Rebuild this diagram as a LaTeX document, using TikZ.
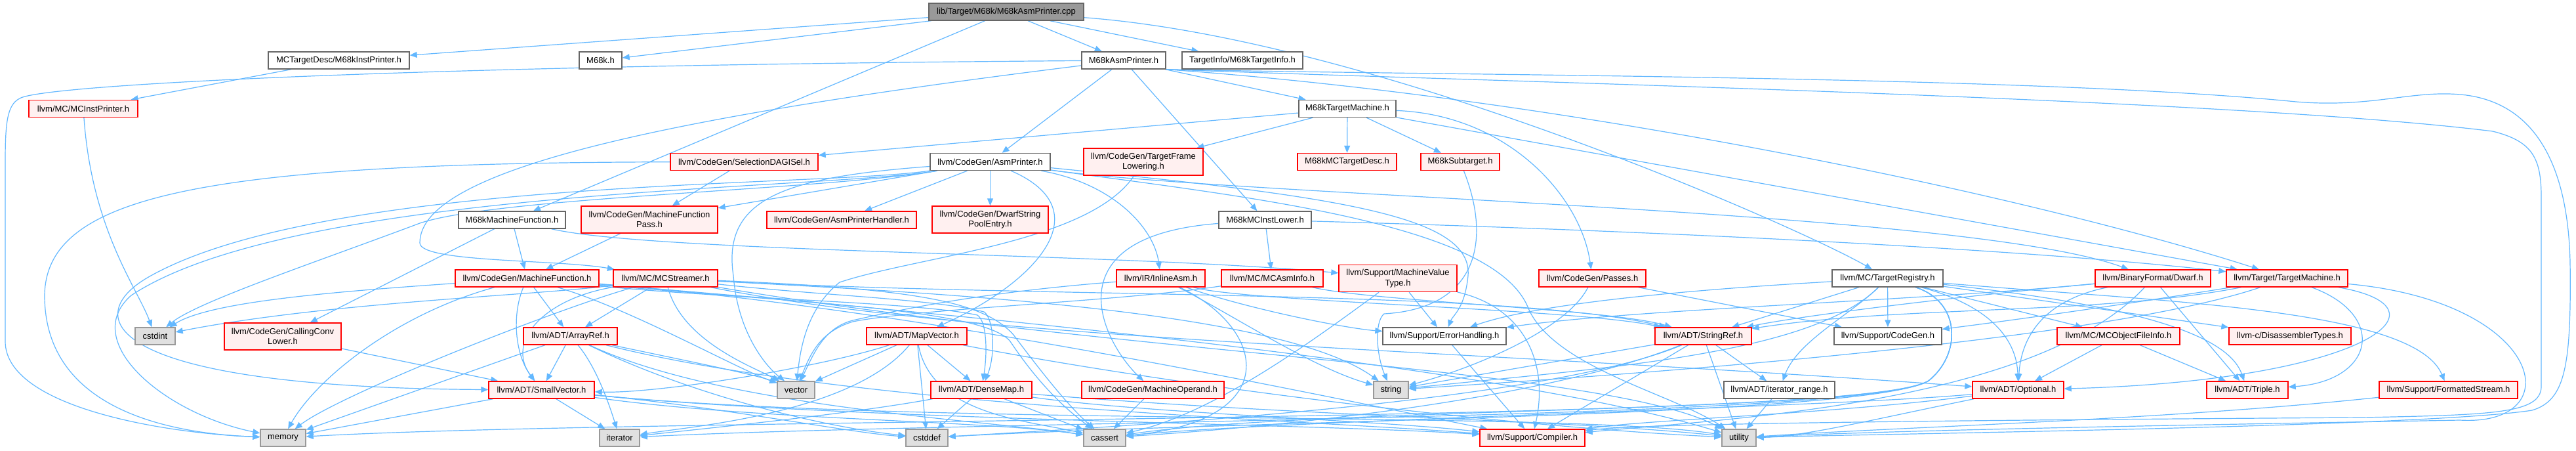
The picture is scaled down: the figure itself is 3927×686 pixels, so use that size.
\documentclass[tikz,border=0pt]{standalone}
\usepackage{fontspec}
\setmainfont{Liberation Sans}
\usetikzlibrary{arrows.meta,backgrounds}
\definecolor{edgec}{HTML}{63B8FF}
\definecolor{rborder}{HTML}{FF0000}
\definecolor{rfill}{HTML}{FFF0F0}
\definecolor{wborder}{HTML}{666666}
\definecolor{gborder}{HTML}{999999}
\definecolor{gfill}{HTML}{E0E0E0}
\definecolor{rootfill}{HTML}{999999}
\begin{document}
\begin{tikzpicture}[x=1pt,y=-1pt,
 nd/.style={rectangle, inner sep=0pt, minimum height=26pt, align=center, font=\fontsize{13}{15.5}\selectfont, line width=1.4pt},
 rn/.style={nd, draw=rborder, fill=rfill},
 wn/.style={nd, draw=wborder, fill=white},
 gn/.style={nd, draw=gborder, fill=gfill},
 rootn/.style={nd, draw=wborder, fill=rootfill},
 two/.style={minimum height=41pt},
 edg/.style={draw=edgec, line width=1.2pt, -{Triangle[length=11pt,width=9pt]}}]
\useasboundingbox (0,0) rectangle (3927,686);
% nodes
\node[rootn, minimum width=236pt] (root) at (1534,18) {lib/Target/M68k/M68kAsmPrinter.cpp};
\node[wn, minimum width=215pt] (instp) at (516.5,92) {MCTargetDesc/M68kInstPrinter.h};
\node[wn, minimum width=65pt] (m68kh) at (915.5,92) {M68k.h};
\node[wn, minimum width=128pt] (asmph) at (1713,92) {M68kAsmPrinter.h};
\node[wn, minimum width=184pt] (tinfo) at (1894,92) {TargetInfo/M68kTargetInfo.h};
\node[rn, minimum width=166pt] (mcinstp) at (127,165.5) {llvm/MC/MCInstPrinter.h};
\node[wn, minimum width=148pt] (tm68k) at (2054,165.5) {M68kTargetMachine.h};
\node[rn, minimum width=225pt] (seldag) at (1134.5,246.5) {llvm/CodeGen/SelectionDAGISel.h};
\node[wn, minimum width=183pt] (asmprn) at (1509.5,246.5) {llvm/CodeGen/AsmPrinter.h};
\node[rn, two, minimum width=182pt] (tfl) at (1743,246.5) {llvm/CodeGen/TargetFrame\\Lowering.h};
\node[rn, minimum width=151pt] (mctd) at (2053.5,246.5) {M68kMCTargetDesc.h};
\node[rn, minimum width=120pt] (subt) at (2226,246.5) {M68kSubtarget.h};
\node[wn, minimum width=163pt] (m68kmf) at (780.5,335) {M68kMachineFunction.h};
\node[rn, two, minimum width=208pt] (mfp) at (990,334.5) {llvm/CodeGen/MachineFunction\\Pass.h};
\node[rn, minimum width=228pt] (asmph2) at (1283,335) {llvm/CodeGen/AsmPrinterHandler.h};
\node[rn, two, minimum width=177pt] (dwsp) at (1509.5,334.5) {llvm/CodeGen/DwarfString\\PoolEntry.h};
\node[wn, minimum width=141pt] (mcil) at (1928.5,335) {M68kMCInstLower.h};
\node[rn, minimum width=219pt] (mf) at (803.5,424) {llvm/CodeGen/MachineFunction.h};
\node[rn, minimum width=159pt] (mcs) at (1014.5,424) {llvm/MC/MCStreamer.h};
\node[rn, minimum width=135pt] (inla) at (1769.5,424) {llvm/IR/InlineAsm.h};
\node[rn, minimum width=155pt] (mcai) at (1939.5,424) {llvm/MC/MCAsmInfo.h};
\node[rn, two, minimum width=180pt] (mvt) at (2131,424) {llvm/Support/MachineValue\\Type.h};
\node[rn, minimum width=163pt] (passes) at (2427.5,424) {llvm/CodeGen/Passes.h};
\node[wn, minimum width=169pt] (treg) at (2877.5,424) {llvm/MC/TargetRegistry.h};
\node[rn, minimum width=176pt] (dwarf) at (3282,424) {llvm/BinaryFormat/Dwarf.h};
\node[rn, minimum width=185pt] (tmach) at (3486.5,424) {llvm/Target/TargetMachine.h};
\node[gn, minimum width=61pt] (cstdint) at (236.5,512) {cstdint};
\node[rn, two, minimum width=178pt] (ccl) at (431,512.5) {llvm/CodeGen/CallingConv\\Lower.h};
\node[rn, minimum width=143pt] (aref) at (869.5,512) {llvm/ADT/ArrayRef.h};
\node[rn, minimum width=153pt] (mapv) at (1397.5,512) {llvm/ADT/MapVector.h};
\node[wn, minimum width=188pt] (errh) at (2202,512) {llvm/Support/ErrorHandling.h};
\node[rn, minimum width=147pt] (sref) at (2596.5,512) {llvm/ADT/StringRef.h};
\node[wn, minimum width=164pt] (cgen) at (2878,512) {llvm/Support/CodeGen.h};
\node[rn, minimum width=187pt] (mcofi) at (3229.5,512) {llvm/MC/MCObjectFileInfo.h};
\node[rn, minimum width=186pt] (disas) at (3491,512) {llvm-c/DisassemblerTypes.h};
\node[rn, minimum width=161pt] (svec) at (825.5,594) {llvm/ADT/SmallVector.h};
\node[gn, minimum width=57pt] (vector) at (1213.5,594) {vector};
\node[rn, minimum width=154pt] (dmap) at (1496,594) {llvm/ADT/DenseMap.h};
\node[rn, minimum width=217pt] (mop) at (1757.5,594) {llvm/CodeGen/MachineOperand.h};
\node[gn, minimum width=53pt] (string) at (2120.5,594) {string};
\node[wn, minimum width=169pt] (itr) at (2712.5,594) {llvm/ADT/iterator\_range.h};
\node[rn, minimum width=139pt] (optional) at (3076.5,594) {llvm/ADT/Optional.h};
\node[rn, minimum width=124pt] (triple) at (3426,594) {llvm/ADT/Triple.h};
\node[rn, minimum width=211pt] (fstream) at (3732.5,594) {llvm/Support/FormattedStream.h};
\node[gn, minimum width=69pt] (memory) at (431.5,667) {memory};
\node[gn, minimum width=61pt] (iterator) at (944.5,667) {iterator};
\node[gn, minimum width=64pt] (cstddef) at (1413,667) {cstddef};
\node[gn, minimum width=64pt] (cassert) at (1684,667) {cassert};
\node[rn, minimum width=160pt] (compiler) at (2336,667) {llvm/Support/Compiler.h};
\node[gn, minimum width=52pt] (utility) at (2651,667) {utility};
\begin{pgfonlayer}{background}
\fill[white] (0,0) rectangle (3927,686);
% root
\draw[edg] (root) -- (instp);
\draw[edg] (root) -- (m68kh);
\draw[edg] (root) -- (m68kmf);
\draw[edg] (root) -- (asmph);
\draw[edg] (root) -- (tinfo);
\draw[edg] (root) .. controls (2100,60) and (2750,350) .. (treg);
% instp, mcinstp
\draw[edg] (instp) -- (mcinstp);
\draw[edg] (mcinstp) .. controls (140,350) and (210,440) .. (cstdint);
% m68kmf
\draw[edg] (m68kmf) -- (ccl);
\draw[edg] (m68kmf) -- (mf);
\draw[edg] (m68kmf) .. controls (1000,385) and (1700,385) .. (mvt);
% asmph
\draw[edg] (asmph) -- (mcil);
\draw[edg] (asmph) -- (tm68k);
\draw[edg] (asmph) -- (asmprn);
\draw[edg] (asmph) .. controls (1000,180) and (640,260) .. (640,370) .. controls (640,400) and (850,395) .. (mcs);
\draw[edg] (asmph) .. controls (600,100) and (60,130) .. (30,150) .. controls (10,160) and (8,190) .. (8,250) -- (8,520) .. controls (8,620) and (250,660) .. (memory);
\draw[edg] (asmph.south east) .. controls (2400,150) and (3100,300) .. (tmach);
\draw[edg] (asmph.south east) .. controls (2200,115) and (3100,115) .. (3500,155) .. controls (3620,165) and (3680,135) .. (3760,145) .. controls (3870,160) and (3915,260) .. (3918,400) .. controls (3920,560) and (3910,610) .. (3860,625) .. controls (3700,650) and (2900,660) .. (utility);
\draw[edg] (asmph.south east) .. controls (2300,125) and (3400,150) .. (3800,200) .. controls (3860,215) and (3874,240) .. (3874,300) -- (3874,590) .. controls (3872,630) and (3800,632) .. (3600,636) .. controls (3000,640) and (2500,645) .. (compiler);
% tm68k
\draw[edg] (tm68k) -- (seldag);
\draw[edg] (tm68k) -- (tfl);
\draw[edg] (tm68k) -- (mctd);
\draw[edg] (tm68k) -- (subt);
\draw[edg] (tm68k) .. controls (2300,175) and (2410,300) .. (passes);
\draw[edg] (tm68k) -- (tmach);
% seldag
\draw[edg] (seldag) -- (mfp);
\draw[edg] (seldag) .. controls (300,248) and (70,300) .. (68,450) .. controls (68,620) and (250,660) .. (memory);
% asmprn
\draw[edg] (asmprn) -- (mfp);
\draw[edg] (asmprn) -- (asmph2);
\draw[edg] (asmprn) -- (dwsp);
\draw[edg] (asmprn) .. controls (1680,320) and (1580,430) .. (mapv);
\draw[edg] (asmprn) .. controls (1700,280) and (1760,350) .. (inla);
\draw[edg] (asmprn) .. controls (1250,285) and (500,270) .. (230,420) .. controls (120,480) and (150,590) .. (svec);
\draw[edg] (asmprn) .. controls (1250,290) and (450,285) .. (200,450) .. controls (120,520) and (250,630) .. (memory);
\draw[edg] (asmprn) .. controls (1250,290) and (760,300) .. (640,340) .. controls (480,400) and (300,460) .. (cstdint);
\draw[edg] (asmprn) .. controls (1200,270) and (1100,300) .. (1118,420) .. controls (1125,510) and (1170,560) .. (vector);
\draw[edg] (asmprn) .. controls (1900,300) and (3000,320) .. (dwarf);
\draw[edg] (asmprn) .. controls (2050,300) and (2245,330) .. (2238,420) .. controls (2233,470) and (2215,480) .. (errh);
\draw[edg] (asmprn) .. controls (1900,300) and (2280,340) .. (2330,470) .. controls (2370,560) and (2550,600) .. (utility);
% tfl, subt
\draw[edg] (tfl) .. controls (1660,370) and (1400,390) .. (1280,430) .. controls (1230,470) and (1220,530) .. (vector);
\draw[edg] (subt) .. controls (2275,370) and (2250,470) .. (2110,478) .. controls (2095,490) and (2098,540) .. (string);
% mfp
\draw[edg] (mfp) -- (mf);
% mcil
\draw[edg] (mcil) .. controls (1600,360) and (1680,520) .. (mop);
\draw[edg] (mcil) -- (mcai);
\draw[edg] (mcil) .. controls (2300,345) and (3000,370) .. (tmach);
% mf
\draw[edg] (mf) -- (aref);
\draw[edg] (mf) .. controls (780,480) and (785,540) .. (svec);
\draw[edg] (mf) .. controls (500,445) and (320,460) .. (cstdint);
\draw[edg] (mf) .. controls (600,480) and (480,580) .. (memory);
\draw[edg] (mf) .. controls (960,470) and (1120,560) .. (vector);
\draw[edg] (mf) .. controls (1100,455) and (1400,460) .. (1490,480) .. controls (1505,490) and (1505,540) .. (dmap);
\draw[edg] (mf) .. controls (1200,460) and (1500,470) .. (1540,520) .. controls (1580,580) and (1620,620) .. (cassert);
\draw[edg] (mf) .. controls (1400,470) and (2000,600) .. (compiler);
\draw[edg] (mf) .. controls (1500,480) and (2300,560) .. (utility);
% mcs
\draw[edg] (mcs) -- (aref);
\draw[edg] (mcs) .. controls (820,450) and (500,460) .. (cstdint);
\draw[edg] (mcs) .. controls (850,470) and (520,600) .. (memory);
\draw[edg] (mcs) .. controls (1040,520) and (1150,560) .. (vector);
\draw[edg] (mcs) .. controls (830,455) and (770,520) .. (svec);
\draw[edg] (mcs) .. controls (1250,450) and (1420,455) .. (1500,475) .. controls (1515,485) and (1518,540) .. (dmap);
\draw[edg] (mcs) .. controls (1400,440) and (1500,460) .. (1545,510) .. controls (1590,570) and (1630,620) .. (cassert);
\draw[edg] (mcs) .. controls (1600,455) and (2300,440) .. (sref);
\draw[edg] (mcs) .. controls (1400,445) and (1950,470) .. (string);
\draw[edg] (mcs) .. controls (1500,520) and (2200,530) .. (optional);
\draw[edg] (mcs) .. controls (1700,540) and (2450,560) .. (utility);
% aref
\draw[edg] (aref) -- (svec);
\draw[edg] (aref) .. controls (910,560) and (930,620) .. (iterator);
\draw[edg] (aref) -- (memory);
\draw[edg] (aref) .. controls (1000,540) and (1150,570) .. (vector);
\draw[edg] (aref) .. controls (1050,600) and (1250,650) .. (cstddef);
\draw[edg] (aref) .. controls (1100,620) and (1500,640) .. (cassert);
\draw[edg] (aref) .. controls (1300,620) and (2000,640) .. (compiler);
% ccl
\draw[edg] (ccl) -- (svec);
% svec
\draw[edg] (svec) -- (memory);
\draw[edg] (svec) -- (iterator);
\draw[edg] (svec) .. controls (1100,620) and (1300,660) .. (cstddef);
\draw[edg] (svec) .. controls (1150,640) and (1500,640) .. (cassert);
\draw[edg] (svec) .. controls (1300,640) and (2000,645) .. (compiler);
\draw[edg] (svec) .. controls (1400,650) and (2400,625) .. (utility);
% mapv
\draw[edg] (mapv) -- (dmap);
\draw[edg] (mapv) -- (vector);
\draw[edg] (mapv) -- (cstddef);
\draw[edg] (mapv) .. controls (1420,630) and (1560,640) .. (cassert);
\draw[edg] (mapv) .. controls (1250,560) and (1000,600) .. (svec);
\draw[edg] (mapv) .. controls (1300,630) and (1050,650) .. (iterator);
\draw[edg] (mapv) .. controls (1800,590) and (2300,650) .. (utility);
% dmap
\draw[edg] (dmap) -- (cstddef);
\draw[edg] (dmap) -- (cassert);
\draw[edg] (dmap) .. controls (1300,630) and (1100,650) .. (iterator);
\draw[edg] (dmap) .. controls (1750,630) and (2100,640) .. (compiler);
\draw[edg] (dmap) .. controls (2000,635) and (2400,640) .. (utility);
% inla
\draw[edg] (inla) .. controls (1500,445) and (1380,470) .. (1300,488) .. controls (1255,500) and (1240,540) .. (vector);
\draw[edg] (inla) .. controls (1930,500) and (1960,640) .. (cassert);
\draw[edg] (inla) .. controls (1900,460) and (2400,470) .. (sref);
\draw[edg] (inla) .. controls (1900,470) and (2050,500) .. (errh);
\draw[edg] (inla) .. controls (1880,480) and (2000,560) .. (string);
% mcai
\draw[edg] (mcai) .. controls (1700,460) and (1400,470) .. (1300,490) .. controls (1250,505) and (1235,540) .. (vector);
\draw[edg] (mcai) .. controls (2100,460) and (2450,470) .. (sref);
% mop
\draw[edg] (mop) -- (cassert);
% mvt
\draw[edg] (mvt) -- (errh);
\draw[edg] (mvt) .. controls (2000,520) and (1850,630) .. (cassert);
\draw[edg] (mvt) .. controls (2330,470) and (2360,560) .. (compiler);
% passes
\draw[edg] (passes) -- (cgen);
\draw[edg] (passes) .. controls (2390,500) and (2250,560) .. (string);
% treg
\draw[edg] (treg) -- (cgen);
\draw[edg] (treg) -- (sref);
\draw[edg] (treg) .. controls (2820,480) and (2740,520) .. (itr);
\draw[edg] (treg) .. controls (2600,440) and (2350,460) .. (errh);
\draw[edg] (treg) .. controls (2760,540) and (2450,560) .. (string);
\draw[edg] (treg) .. controls (3050,470) and (3075,530) .. (optional);
\draw[edg] (treg) -- (mcofi);
\draw[edg] (treg) -- (disas);
\draw[edg] (treg) .. controls (3300,470) and (3400,520) .. (triple);
\draw[edg] (treg) .. controls (3300,460) and (3680,470) .. (fstream);
\draw[edg] (treg) .. controls (2990,460) and (2990,540) .. (2940,580) .. controls (2850,630) and (2000,620) .. (cassert);
\draw[edg] (treg) .. controls (2990,460) and (2990,540) .. (2940,580) .. controls (2850,635) and (1900,640) .. (cstddef);
\draw[edg] (treg) .. controls (2990,460) and (2990,540) .. (2940,580) .. controls (2850,640) and (1500,640) .. (iterator);
\draw[edg] (treg) .. controls (2990,460) and (2990,540) .. (2940,580) .. controls (2850,645) and (1000,635) .. (memory);
% dwarf
\draw[edg] (dwarf) .. controls (3000,450) and (2750,480) .. (sref);
\draw[edg] (dwarf) .. controls (2900,460) and (2500,470) .. (errh);
\draw[edg] (dwarf) -- (triple);
\draw[edg] (dwarf) .. controls (3100,460) and (3080,530) .. (optional);
\draw[edg] (dwarf) .. controls (3100,620) and (2600,640) .. (compiler);
% tmach
\draw[edg] (tmach) .. controls (3200,470) and (3050,490) .. (cgen);
\draw[edg] (tmach) .. controls (3200,480) and (2900,465) .. (sref);
\draw[edg] (tmach) .. controls (3200,520) and (2500,570) .. (string);
\draw[edg] (tmach) .. controls (3640,480) and (3620,580) .. (triple);
\draw[edg] (tmach) .. controls (3750,470) and (3600,580) .. (optional);
\draw[edg] (tmach) .. controls (3880,460) and (3920,650) .. (3750,640) .. controls (3300,648) and (2900,655) .. (utility);
% mcofi
\draw[edg] (mcofi) -- (optional);
\draw[edg] (mcofi) -- (triple);
% optional
\draw[edg] (optional) .. controls (2850,640) and (2750,665) .. (utility);
\draw[edg] (optional) .. controls (2800,630) and (2500,640) .. (compiler);
\draw[edg] (optional) .. controls (2800,620) and (1950,640) .. (cassert);
% fstream
\draw[edg] (fstream) .. controls (3300,640) and (2900,650) .. (utility);
% errh
\draw[edg] (errh) -- (compiler);
% sref
\draw[edg] (sref) -- (itr);
\draw[edg] (sref) -- (utility);
\draw[edg] (sref) -- (compiler);
\draw[edg] (sref) -- (string);
\draw[edg] (sref) .. controls (2350,610) and (1950,650) .. (cassert);
\draw[edg] (sref) .. controls (2350,615) and (1700,650) .. (cstddef);
% itr
\draw[edg] (itr) -- (utility);
\end{pgfonlayer}
\end{tikzpicture}
\end{document}
